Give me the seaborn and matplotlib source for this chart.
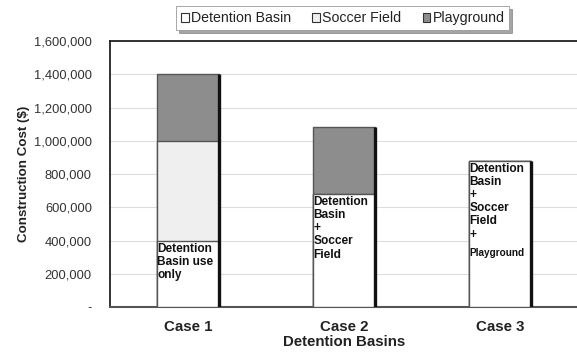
import matplotlib
matplotlib.use("Agg")
import matplotlib.pyplot as plt
import matplotlib.patches as mpatches
import matplotlib.ticker as mticker
import seaborn as sns
import pandas as pd

# Construction cost components per case ($)
cases = ["Case 1", "Case 2", "Case 3"]
detention_basin = [400000, 680000, 880000]
soccer_field = [600000, 0, 0]
playground = [400000, 400000, 0]
bar_notes = ["Detention\nBasin use\nonly",
             "Detention\nBasin\n+\nSoccer\nField",
             "Detention\nBasin\n+\nSoccer\nField\n+"]
y_ticks = [0, 200000, 400000, 600000, 800000, 1000000, 1200000, 1400000, 1600000]

df = pd.DataFrame({
    "case": cases,
    "detention": detention_basin,
    "soccer": soccer_field,
    "playground": playground,
})
df["lvl1"] = df["detention"]
df["lvl2"] = df["detention"] + df["soccer"]
df["lvl3"] = df["lvl2"] + df["playground"]

sns.set_theme(style="white")
plt.rcParams["font.family"] = ["Liberation Sans", "DejaVu Sans"]

fig = plt.figure(figsize=(5.77, 3.59), dpi=100)
ax = fig.add_axes([0.1906, 0.1448, 0.811, 0.741])

col_det = "#ffffff"
col_soc = "#efefef"
col_play = "#8d8d8d"
edge = "#555555"

# Stacked bars: draw cumulative totals from the back to the front
for level, color in [("lvl3", col_play), ("lvl2", col_soc), ("lvl1", col_det)]:
    sns.barplot(data=df, x="case", y=level, color=color, width=0.40,
                edgecolor=edge, linewidth=1.0, ax=ax, zorder=3)

# Dark shadow on the right side of each column (tallest patch per case)
n = len(cases)
for p in ax.patches[:n]:
    x1 = p.get_x() + p.get_width()
    h = p.get_height()
    ax.plot([x1, x1], [0, h], color="#111111", lw=2.4, zorder=4,
            solid_capstyle="butt")

# Notes written inside the detention-basin part of each column
for i, p in enumerate(ax.patches[2 * n:3 * n]):
    x0 = p.get_x() + 0.004
    top = p.get_height()
    ax.text(x0, top - 12000, bar_notes[i], ha="left", va="top",
            fontsize=8.6, fontweight="bold", color="#111111",
            linespacing=1.13, zorder=5)
    if i == 2:
        ax.text(x0, top - 525000, "Playground", ha="left", va="top",
                fontsize=7.2, fontweight="bold", color="#111111", zorder=5)

ax.set_xlim(-0.5, 2.5)
ax.set_ylim(0, 1600000)
ax.set_yticks(y_ticks)
ax.yaxis.set_major_formatter(mticker.FuncFormatter(
    lambda v, _: "-" if v == 0 else f"{int(v):,}"))
ax.yaxis.grid(True, color="#dddddd", lw=0.8, zorder=0)
ax.set_axisbelow(True)

ax.tick_params(axis="y", labelsize=9.3, colors="#333333", length=0, pad=13)
ax.tick_params(axis="x", labelsize=10.8, length=0, pad=9)
for t in ax.get_xticklabels():
    t.set_fontweight("bold")
    t.set_color("#222222")

ax.set_xlabel("Detention Basins", fontsize=10.8, fontweight="bold",
              color="#222222", labelpad=1)
ax.set_ylabel("Construction Cost ($)", fontsize=9.6, fontweight="bold",
              color="#222222", labelpad=3)

for side in ["left", "top"]:
    ax.spines[side].set_color("#222222")
    ax.spines[side].set_linewidth(1.3)
ax.spines["bottom"].set_color("#555555")
ax.spines["bottom"].set_linewidth(1.5)
ax.spines["right"].set_color("#dddddd")
ax.spines["right"].set_linewidth(0.8)

handles = [
    mpatches.Patch(facecolor=col_det, edgecolor="#333333", lw=0.8, label="Detention Basin"),
    mpatches.Patch(facecolor=col_soc, edgecolor="#333333", lw=0.8, label="Soccer Field"),
    mpatches.Patch(facecolor=col_play, edgecolor="#333333", lw=0.8, label="Playground"),
]
leg = fig.legend(handles=handles, loc="center", bbox_to_anchor=(0.594, 0.949),
                 ncol=3, fontsize=10.2, frameon=True, fancybox=False, shadow=True,
                 handlelength=0.55, handleheight=0.55, handletextpad=0.15,
                 columnspacing=1.5, borderpad=0.35)
leg.get_frame().set_edgecolor("#999999")
leg.get_frame().set_linewidth(0.6)
for t in leg.get_texts():
    t.set_color("#222222")

fig.savefig("out.png", dpi=100)
